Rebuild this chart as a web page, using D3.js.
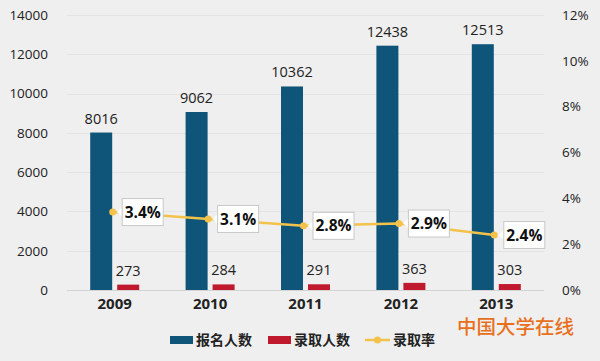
<!DOCTYPE html>
<html><head><meta charset="utf-8">
<script src="https://cdn.jsdelivr.net/npm/d3@7"></script>
<style>
html,body{margin:0;padding:0;background:#efefef;}
svg{display:block;}
</style></head>
<body>
<svg id="chart" width="600" height="361"></svg>
<script>
const years = ["2009","2010","2011","2012","2013"];
const applicants = [8016, 9062, 10362, 12438, 12513];
const admitted = [273, 284, 291, 363, 303];
const rate = [3.4, 3.1, 2.8, 2.9, 2.4];
const leftTicks = [0,2000,4000,6000,8000,10000,12000,14000];
const rightTicks = [0,2,4,6,8,10,12];
const seriesNames = ["报名人数","录取人数","录取率"];
const brand = "中国大学在线";

const colors = {blue:"#0f5579", red:"#c0182d", line:"#f3c24a"};
const svg = d3.select("#chart");
const W = 600, H = 361;
svg.append("rect").attr("width",W).attr("height",H).attr("fill","#efefef");

const x = d3.scaleBand().domain(years).range([67, 544]);
const yL = d3.scaleLinear().domain([0,14000]).range([290, 15]);
const yR = d3.scaleLinear().domain([0,12]).range([290, 15]);
const font = "'Open Sans','Liberation Sans',sans-serif";
const cjk = "'Noto Sans CJK SC',sans-serif";

// gridlines
svg.append("g").selectAll("line").data(leftTicks).join("line")
  .attr("x1",67).attr("x2",544)
  .attr("y1",d=>Math.round(yL(d))+0.5).attr("y2",d=>Math.round(yL(d))+0.5)
  .attr("stroke",d=>d===0?"#d4d4d4":"#e4e4e4").attr("stroke-width",1);

// left axis
const gl = svg.append("g").attr("transform","translate(48,0)")
  .call(d3.axisLeft(yL).tickValues(leftTicks).tickSize(0).tickPadding(0).tickFormat(d3.format("d")));
gl.select(".domain").remove();
gl.selectAll("text").attr("font-family",font).attr("font-size",13.5).attr("fill","#222");

// right axis
const gr = svg.append("g").attr("transform","translate(562,0)")
  .call(d3.axisRight(yR).tickValues(rightTicks).tickSize(0).tickPadding(0).tickFormat(d=>d+"%"));
gr.select(".domain").remove();
gr.selectAll("text").attr("font-family",font).attr("font-size",13.5).attr("fill","#222");

// x axis labels
const gx = svg.append("g").attr("transform","translate(0,298)")
  .call(d3.axisBottom(x).tickSize(0).tickPadding(0));
gx.select(".domain").remove();
gx.selectAll("text").attr("font-family",font).attr("font-size",15).attr("font-weight","bold").attr("fill","#222").attr("dy","0.71em");

const bw = 22, gap = 5;
const cx = d => x(d) + x.bandwidth()/2;

// blue bars
svg.append("g").selectAll("rect").data(years).join("rect")
  .attr("x",(d)=>cx(d)-gap/2-bw).attr("width",bw)
  .attr("y",(d,i)=>yL(applicants[i])).attr("height",(d,i)=>yL(0)-yL(applicants[i]))
  .attr("fill",colors.blue);
// red bars
svg.append("g").selectAll("rect").data(years).join("rect")
  .attr("x",(d)=>cx(d)+gap/2).attr("width",bw)
  .attr("y",(d,i)=>yL(admitted[i])).attr("height",(d,i)=>yL(0)-yL(admitted[i]))
  .attr("fill",colors.red);

// value labels
svg.append("g").selectAll("text").data(years).join("text")
  .attr("x",d=>cx(d)-gap/2-bw/2).attr("y",(d,i)=>yL(applicants[i])-9)
  .attr("text-anchor","middle").attr("font-family",font).attr("font-size",14.5).attr("fill","#222")
  .text((d,i)=>applicants[i]);
svg.append("g").selectAll("text").data(years).join("text")
  .attr("x",d=>cx(d)+gap/2+bw/2).attr("y",(d,i)=>yL(admitted[i])-9)
  .attr("text-anchor","middle").attr("font-family",font).attr("font-size",14.5).attr("fill","#222")
  .text((d,i)=>admitted[i]);

// rate line
const line = d3.line().x((d,i)=>cx(years[i])-2).y(d=>yR(d));
svg.append("path").datum(rate).attr("d",line).attr("fill","none")
  .attr("stroke",colors.line).attr("stroke-width",2.5);
svg.append("g").selectAll("circle").data(rate).join("circle")
  .attr("cx",(d,i)=>cx(years[i])-2).attr("cy",d=>yR(d)).attr("r",3.5).attr("fill",colors.line);

// rate callouts
const cg = svg.append("g").selectAll("g").data(rate).join("g")
  .attr("transform",(d,i)=>`translate(${cx(years[i])+7},${yR(d)})`);
cg.append("path").attr("d","M-5,0 L1,-5 L1,5 Z").attr("fill","#fff");
cg.append("rect").attr("x",0.5).attr("y",-13.5).attr("width",41).attr("height",27)
  .attr("fill","#fff").attr("stroke","#c8c8c8");
cg.append("text").attr("x",21).attr("y",0).attr("dy","0.36em").attr("text-anchor","middle")
  .attr("font-family",font).attr("font-size",15.5).attr("font-weight","bold").attr("fill","#111")
  .text(d=>d.toFixed(1)+"%");

// legend
const lg = svg.append("g").attr("transform","translate(0,340)");
lg.append("rect").attr("x",170).attr("y",-4).attr("width",23).attr("height",8).attr("fill",colors.blue);
lg.append("text").attr("x",196).attr("y",0).attr("dy","0.36em").attr("font-family",cjk).attr("font-weight","bold").attr("font-size",14).attr("fill","#222").text(seriesNames[0]);
lg.append("rect").attr("x",268).attr("y",-4).attr("width",23).attr("height",8).attr("fill",colors.red);
lg.append("text").attr("x",294).attr("y",0).attr("dy","0.36em").attr("font-family",cjk).attr("font-weight","bold").attr("font-size",14).attr("fill","#222").text(seriesNames[1]);
lg.append("line").attr("x1",365).attr("x2",390).attr("y1",0).attr("y2",0).attr("stroke",colors.line).attr("stroke-width",2.5);
lg.append("circle").attr("cx",377.5).attr("cy",0).attr("r",3.5).attr("fill",colors.line);
lg.append("text").attr("x",393).attr("y",0).attr("dy","0.36em").attr("font-family",cjk).attr("font-weight","bold").attr("font-size",14).attr("fill","#222").text(seriesNames[2]);

// brand
svg.append("text").attr("x",457).attr("y",327).attr("dy","0.36em")
  .attr("font-family",cjk).attr("font-size",19.5).attr("font-weight",500).attr("fill","#e8701c")
  .text(brand);
</script>
</body></html>
